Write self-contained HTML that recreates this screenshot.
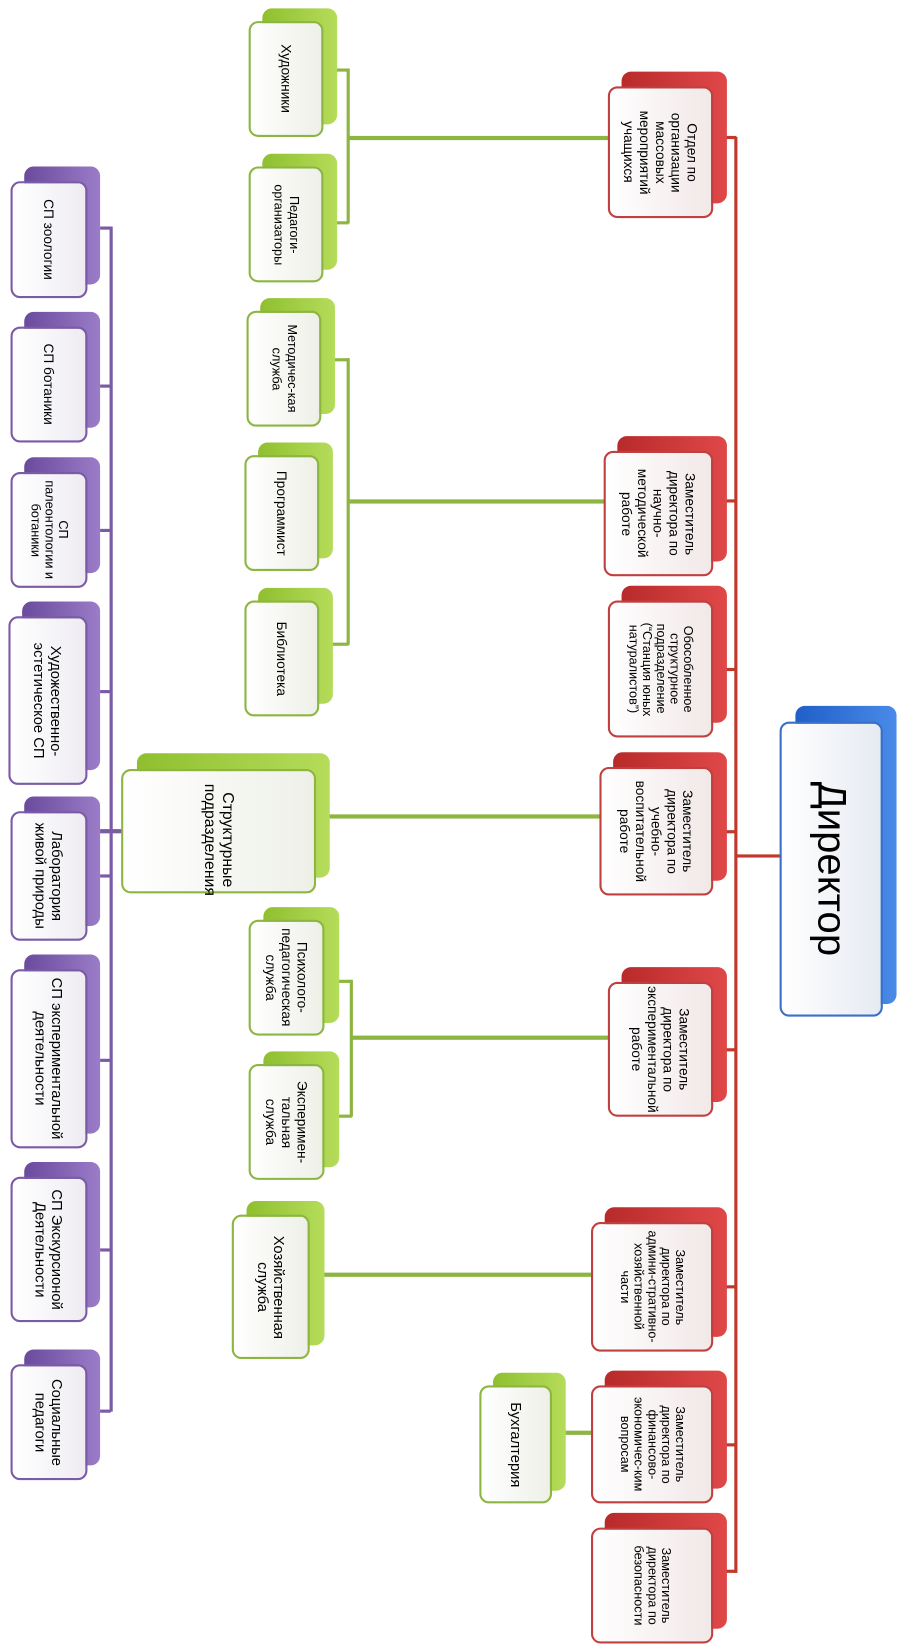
<!DOCTYPE html>
<html><head><meta charset="utf-8"><style>
body{margin:0;width:898px;height:1650px;background:#fff;position:relative;overflow:hidden;font-family:"Liberation Sans","DejaVu Sans",sans-serif}
#w{position:absolute;left:0;top:0;width:853px;height:1567px;transform:scale(1.0535);transform-origin:0 0}
.k{position:absolute;border-radius:9px}
.f{position:absolute;border-radius:9px;writing-mode:vertical-rl;text-align:center;display:flex;align-items:center;justify-content:center;font-size:13px;line-height:15px;color:#000;box-sizing:border-box;padding:6px 4px}
.rk{background:linear-gradient(90deg,#b82a2a,#e04848);}
.rf{background:linear-gradient(90deg,#ffffff,#f2e8e8);border:2px solid #c04040}
.gk{background:linear-gradient(90deg,#8fbf2f,#b5dc5a)}
.gf{background:linear-gradient(90deg,#ffffff,#eef0e8);border:2px solid #8db542}
.pk{background:linear-gradient(90deg,#6a4a9c,#9a7cc8)}
.pf{background:linear-gradient(90deg,#ffffff,#eeecf2);border:2px solid #7b5aa6}
.l{position:absolute}
.R{background:#c0392b}.G{background:#8db542}.P{background:#7b5aa6}
</style></head><body><div id="w">
<!-- lines red -->
<div class="l R" style="left:697px;top:130px;width:3px;height:1363px"></div>
<div class="l R" style="left:677px;top:129px;width:22px;height:3px"></div>
<div class="l R" style="left:677px;top:474px;width:22px;height:3px"></div>
<div class="l R" style="left:677px;top:634px;width:22px;height:3px"></div>
<div class="l R" style="left:677px;top:788px;width:22px;height:3px"></div>
<div class="l R" style="left:677px;top:995px;width:22px;height:3px"></div>
<div class="l R" style="left:677px;top:1220px;width:22px;height:3px"></div>
<div class="l R" style="left:677px;top:1370px;width:22px;height:3px"></div>
<div class="l R" style="left:677px;top:1490px;width:22px;height:3px"></div>
<div class="l R" style="left:698px;top:811px;width:44px;height:3px"></div>
<!-- green -->
<div class="l G" style="left:330px;top:129px;width:248px;height:4px"></div>
<div class="l G" style="left:329px;top:65px;width:3px;height:147px"></div>
<div class="l G" style="left:307px;top:65px;width:24px;height:3px"></div>
<div class="l G" style="left:307px;top:210px;width:24px;height:3px"></div>
<div class="l G" style="left:330px;top:474px;width:244px;height:4px"></div>
<div class="l G" style="left:329px;top:340px;width:3px;height:272px"></div>
<div class="l G" style="left:305px;top:340px;width:26px;height:3px"></div>
<div class="l G" style="left:303px;top:610px;width:28px;height:3px"></div>
<div class="l G" style="left:300px;top:773px;width:270px;height:4px"></div>
<div class="l G" style="left:333px;top:983px;width:245px;height:4px"></div>
<div class="l G" style="left:332px;top:930px;width:3px;height:130px"></div>
<div class="l G" style="left:308px;top:930px;width:26px;height:3px"></div>
<div class="l G" style="left:308px;top:1058px;width:26px;height:3px"></div>
<div class="l G" style="left:294px;top:1208px;width:268px;height:4px"></div>
<div class="l G" style="left:524px;top:1358px;width:38px;height:4px"></div>
<!-- purple -->
<div class="l P" style="left:104px;top:215px;width:3px;height:1125px"></div>
<div class="l P" style="left:95px;top:787px;width:21px;height:4px"></div>
<div class="l P" style="left:95px;top:215px;width:10px;height:3px"></div>
<div class="l P" style="left:95px;top:1338px;width:10px;height:3px"></div>
<div class="l P" style="left:95px;top:365px;width:10px;height:3px"></div>
<div class="l P" style="left:95px;top:502px;width:10px;height:3px"></div>
<div class="l P" style="left:95px;top:655px;width:10px;height:3px"></div>
<div class="l P" style="left:95px;top:830px;width:10px;height:3px"></div>
<div class="l P" style="left:95px;top:1005px;width:10px;height:3px"></div>
<div class="l P" style="left:95px;top:1185px;width:10px;height:3px"></div>

<!-- director -->
<div class="k" style="left:755px;top:670px;width:96px;height:283px;background:linear-gradient(90deg,#1f5fc8,#4a8ae8)"></div>
<div class="f" style="left:740px;top:685px;width:98px;height:280px;background:linear-gradient(90deg,#fff,#e6eaf2);border:2px solid #3a70c8;font-size:38px;line-height:40px">Директор</div>

<!-- red -->
<div class="k rk" style="left:590px;top:68px;width:100px;height:125px"></div>
<div class="f rf" style="left:577px;top:82px;width:100px;height:125px">Отдел по организации массовых мероприятий учащихся</div>
<div class="k rk" style="left:586px;top:414px;width:104px;height:119px"></div>
<div class="f rf" style="left:573px;top:428px;width:104px;height:119px">Заместитель директора по научно-методической работе</div>
<div class="k rk" style="left:590px;top:556px;width:100px;height:130px"></div>
<div class="f rf" style="left:577px;top:570px;width:100px;height:130px;font-size:12px;line-height:13px">Обособленное структурное подразделение (“Станция юных натуралистов”)</div>
<div class="k rk" style="left:582px;top:714px;width:108px;height:122px"></div>
<div class="f rf" style="left:569px;top:728px;width:108px;height:122px">Заместитель директора по учебно-воспитательной работе</div>
<div class="k rk" style="left:590px;top:918px;width:100px;height:128px"></div>
<div class="f rf" style="left:577px;top:932px;width:100px;height:128px">Заместитель директора по экспериментальной работе</div>
<div class="k rk" style="left:574px;top:1146px;width:116px;height:123px"></div>
<div class="f rf" style="left:561px;top:1160px;width:116px;height:123px;font-size:12px;line-height:13px">Заместитель директора по админи-стративно-хозяйственной части</div>
<div class="k rk" style="left:574px;top:1301px;width:116px;height:112px"></div>
<div class="f rf" style="left:561px;top:1315px;width:116px;height:112px;font-size:12px;line-height:13px">Заместитель директора по финансово-экономичес-ким вопросам</div>
<div class="k rk" style="left:574px;top:1436px;width:116px;height:110px"></div>
<div class="f rf" style="left:561px;top:1450px;width:116px;height:110px;font-size:12px;line-height:13px">Заместитель директора по безопасности</div>

<!-- green -->
<div class="k gk" style="left:249px;top:8px;width:71px;height:110px"></div>
<div class="f gf" style="left:236px;top:20px;width:71px;height:110px">Художники</div>
<div class="k gk" style="left:249px;top:146px;width:71px;height:110px"></div>
<div class="f gf" style="left:236px;top:158px;width:71px;height:110px;font-size:12px">Педагоги-организаторы</div>
<div class="k gk" style="left:247px;top:283px;width:71px;height:110px"></div>
<div class="f gf" style="left:234px;top:295px;width:71px;height:110px;font-size:12px">Методичес-кая служба</div>
<div class="k gk" style="left:245px;top:420px;width:71px;height:110px"></div>
<div class="f gf" style="left:232px;top:432px;width:71px;height:110px">Программист</div>
<div class="k gk" style="left:245px;top:558px;width:71px;height:110px"></div>
<div class="f gf" style="left:232px;top:570px;width:71px;height:110px">Библиотека</div>
<div class="k gk" style="left:130px;top:715px;width:183px;height:118px"></div>
<div class="f gf" style="left:115px;top:730px;width:185px;height:118px;font-size:15px;line-height:17px;justify-content:flex-start;padding:12px 24px">Структурные подразделения</div>
<div class="k gk" style="left:250px;top:861px;width:72px;height:110px"></div>
<div class="f gf" style="left:236px;top:873px;width:72px;height:110px">Психолого-педагогическая служба</div>
<div class="k gk" style="left:250px;top:998px;width:72px;height:110px"></div>
<div class="f gf" style="left:236px;top:1010px;width:72px;height:110px">Эксперимен-тальная служба</div>
<div class="k gk" style="left:234px;top:1140px;width:74px;height:137px"></div>
<div class="f gf" style="left:220px;top:1153px;width:74px;height:137px;font-size:14px">Хозяйственная служба</div>
<div class="k gk" style="left:468px;top:1303px;width:69px;height:112px"></div>
<div class="f gf" style="left:455px;top:1315px;width:69px;height:112px;font-size:14px">Бухгалтерия</div>

<!-- purple -->
<div class="k pk" style="left:23px;top:158px;width:72px;height:112px"></div>
<div class="f pf" style="left:10px;top:172px;width:73px;height:111px">СП зоологии</div>
<div class="k pk" style="left:23px;top:296px;width:72px;height:110px"></div>
<div class="f pf" style="left:10px;top:310px;width:73px;height:110px">СП ботаники</div>
<div class="k pk" style="left:23px;top:434px;width:72px;height:110px"></div>
<div class="f pf" style="left:10px;top:448px;width:73px;height:110px;font-size:12px;line-height:13px">СП палеонтологии и ботаники</div>
<div class="k pk" style="left:21px;top:571px;width:74px;height:160px"></div>
<div class="f pf" style="left:8px;top:585px;width:75px;height:160px;font-size:14px;line-height:16px">Художественно-эстетическое СП</div>
<div class="k pk" style="left:23px;top:756px;width:72px;height:123px"></div>
<div class="f pf" style="left:10px;top:770px;width:73px;height:123px;font-size:14px;line-height:16px">Лаборатория живой природы</div>
<div class="k pk" style="left:23px;top:906px;width:72px;height:170px"></div>
<div class="f pf" style="left:10px;top:920px;width:73px;height:170px;font-size:14px;line-height:16px">СП экспериментальной деятельности</div>
<div class="k pk" style="left:23px;top:1103px;width:72px;height:138px"></div>
<div class="f pf" style="left:10px;top:1117px;width:73px;height:138px;font-size:14px;line-height:16px">СП Экскурсионой Деятельности</div>
<div class="k pk" style="left:23px;top:1281px;width:72px;height:110px"></div>
<div class="f pf" style="left:10px;top:1295px;width:73px;height:110px;font-size:14px;line-height:16px">Социальные педагоги</div>
</div></body></html>
